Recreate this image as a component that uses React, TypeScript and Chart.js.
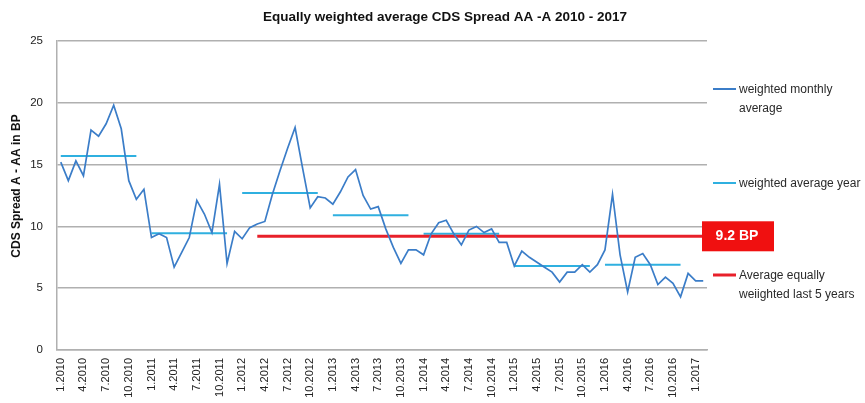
import React, { useEffect, useRef } from "react";
import { Chart, registerables } from "chart.js";

Chart.register(...registerables);

const FONT = "'Liberation Sans', Arial, sans-serif";

const titleText = "Equally weighted average CDS Spread AA -A 2010 - 2017";
const yAxisTitle = "CDS Spread A - AA in BP";

const startYear = 2010;

// weighted monthly average, Jan 2010 .. Feb 2017
const monthlyValues = [
  15.2, 13.7, 15.3, 14.1, 17.8, 17.3, 18.3, 19.8, 17.9, 13.7, 12.2, 13.0,
  9.1, 9.4, 9.1, 6.7, 7.9, 9.1, 12.1, 11.0, 9.5, 13.4, 7.0, 9.6,
  9.0, 9.9, 10.2, 10.4, 12.6, 14.5, 16.3, 18.0, 14.7, 11.5, 12.4, 12.3,
  11.8, 12.8, 14.0, 14.6, 12.5, 11.4, 11.6, 9.8, 8.3, 7.0, 8.1, 8.1,
  7.7, 9.4, 10.3, 10.5, 9.4, 8.5, 9.7, 10.0, 9.5, 9.8, 8.7, 8.7,
  6.8, 8.0, 7.5, 7.1, 6.7, 6.3, 5.5, 6.3, 6.3, 6.9, 6.3, 6.9,
  8.1, 12.6, 7.7, 4.7, 7.5, 7.8, 6.9, 5.3, 5.9, 5.4, 4.3, 6.2,
  5.6, 5.6,
];

// weighted average per year 2010 .. 2016
const yearlyAverages = [15.7, 9.45, 12.7, 10.9, 9.4, 6.8, 6.9];
const yearlyLastMonth = 10; // each yearly segment drawn Jan..Nov

const fiveYearAverage = 9.2;
const fiveYearStartIndex = 26;
const fiveYearBoxLabel = "9.2 BP";

const monthLabels = monthlyValues.map(
  (_, i) => `${(i % 12) + 1}.${startYear + Math.floor(i / 12)}`
);

const yearlySeries = monthlyValues.map((_, i) => {
  const y = Math.floor(i / 12);
  const m = i % 12;
  return y < yearlyAverages.length && m <= yearlyLastMonth ? yearlyAverages[y] : null;
});

const fiveYearSeries = monthlyValues.map((_, i) =>
  i >= fiveYearStartIndex ? fiveYearAverage : null
);

const MONTHLY_COLOR = "#3b7dc8";
const YEARLY_COLOR = "#2fb0e0";
const RED = "#e8202a";
const GRID = "#b0b0b0";

const legendEntries = [
  { color: MONTHLY_COLOR, width: 2, lines: ["weighted monthly", "average"], y: 89 },
  { color: YEARLY_COLOR, width: 2, lines: ["weighted average year"], y: 183 },
  { color: RED, width: 3, lines: ["Average equally", "weiighted last 5 years"], y: 275 },
];

const decorPlugin = {
  id: "decor",
  afterDraw(chart: any) {
    const ctx = chart.ctx;
    const yScale = chart.scales.y;
    ctx.save();
    // title
    ctx.fillStyle = "#111";
    ctx.font = `bold 13.5px ${FONT}`;
    ctx.textAlign = "center";
    ctx.textBaseline = "middle";
    ctx.fillText(titleText, 445, 17);
    // y title
    ctx.save();
    ctx.translate(17, 186);
    ctx.rotate(-Math.PI / 2);
    ctx.font = `bold 12px ${FONT}`;
    ctx.fillStyle = "#111";
    ctx.fillText(yAxisTitle, 0, 0);
    ctx.restore();
    // legend
    ctx.textAlign = "left";
    ctx.font = `12px ${FONT}`;
    for (const e of legendEntries) {
      ctx.strokeStyle = e.color;
      ctx.lineWidth = e.width;
      ctx.beginPath();
      ctx.moveTo(713, e.y);
      ctx.lineTo(736, e.y);
      ctx.stroke();
      ctx.fillStyle = "#2a2a2a";
      e.lines.forEach((t, k) => ctx.fillText(t, 739, e.y + 1 + k * 19));
    }
    // red value box
    const by = yScale.getPixelForValue(fiveYearAverage);
    ctx.fillStyle = "#f01010";
    ctx.fillRect(702, by - 15, 72, 30);
    ctx.fillStyle = "#ffffff";
    ctx.font = `bold 14px ${FONT}`;
    ctx.textAlign = "center";
    ctx.fillText(fiveYearBoxLabel, 737, by);
    ctx.restore();
  },
};

export default function App() {
  const ref = useRef<HTMLCanvasElement | null>(null);
  useEffect(() => {
    if (!ref.current) return;
    const chart = new Chart(ref.current, {
      type: "line",
      data: {
        labels: monthLabels,
        datasets: [
          {
            label: "weighted monthly average",
            data: monthlyValues,
            borderColor: MONTHLY_COLOR,
            borderWidth: 1.7,
            pointRadius: 0,
            tension: 0,
            order: 1,
          },
          {
            label: "weighted average year",
            data: yearlySeries,
            borderColor: YEARLY_COLOR,
            borderWidth: 2,
            pointRadius: 0,
            spanGaps: false,
            order: 3,
          },
          {
            label: "Average equally weiighted last 5 years",
            data: fiveYearSeries,
            borderColor: RED,
            borderWidth: 3,
            pointRadius: 0,
            order: 2,
          },
        ],
      },
      options: {
        responsive: false,
        animation: false,
        devicePixelRatio: 1,
        layout: { padding: { left: 0, right: 158, top: 41, bottom: 0 } },
        plugins: { legend: { display: false }, tooltip: { enabled: false }, title: { display: false } },
        scales: {
          x: {
            type: "category",
            offset: true,
            grid: { display: false, drawTicks: false },
            border: { display: true, color: GRID, width: 1.5 },
            ticks: {
              autoSkip: false,
              minRotation: 90,
              maxRotation: 90,
              padding: 8,
              color: "#222",
              font: { family: FONT, size: 11 },
              callback: (_v: any, i: number) => (i % 3 === 0 ? monthLabels[i] : ""),
            },
            afterFit: (s: any) => {
              s.height = 53;
            },
          },
          y: {
            min: 0,
            max: 25,
            ticks: { stepSize: 5, padding: 14, color: "#222", font: { family: FONT, size: 11.5 } },
            grid: { color: GRID, lineWidth: 1.5, drawTicks: false },
            border: { display: true, color: GRID, width: 1.5 },
            afterFit: (s: any) => {
              s.width = 57;
            },
          },
        },
      },
      plugins: [decorPlugin],
    });
    return () => chart.destroy();
  }, []);
  return (
    <div style={{ position: "fixed", left: 0, top: 0, width: 865, height: 403, background: "#fff" }}>
      <canvas ref={ref} width={865} height={403} />
    </div>
  );
}
